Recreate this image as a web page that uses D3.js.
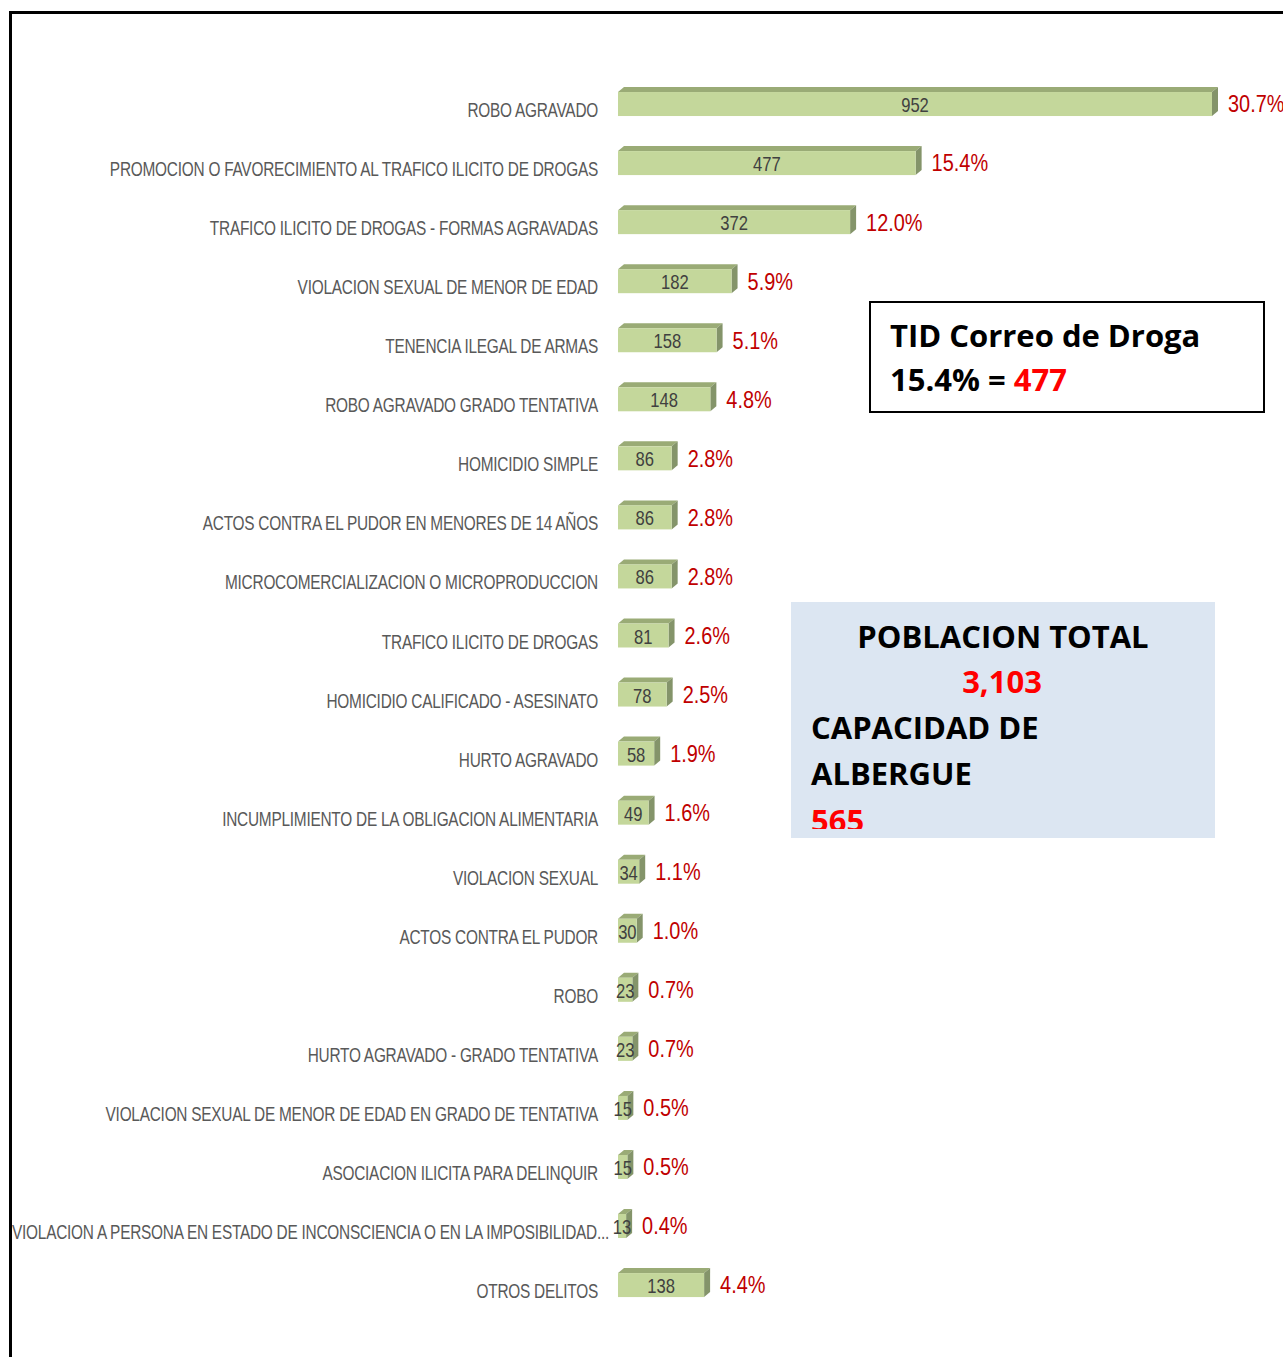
<!DOCTYPE html>
<html>
<head>
<meta charset="utf-8">
<script src="https://cdn.jsdelivr.net/npm/d3@7"></script>
<style>
  body { margin: 0; background: #fff; }
  svg { display: block; }
</style>
</head>
<body>
<div id="chart"></div>
<script>
// Data
const categories = [
  "ROBO AGRAVADO",
  "PROMOCION O FAVORECIMIENTO AL TRAFICO ILICITO DE DROGAS",
  "TRAFICO ILICITO DE DROGAS - FORMAS AGRAVADAS",
  "VIOLACION SEXUAL DE MENOR DE EDAD",
  "TENENCIA ILEGAL DE ARMAS",
  "ROBO AGRAVADO GRADO TENTATIVA",
  "HOMICIDIO SIMPLE",
  "ACTOS CONTRA EL PUDOR EN MENORES DE 14 AÑOS",
  "MICROCOMERCIALIZACION O MICROPRODUCCION",
  "TRAFICO ILICITO DE DROGAS",
  "HOMICIDIO CALIFICADO - ASESINATO",
  "HURTO AGRAVADO",
  "INCUMPLIMIENTO DE LA OBLIGACION ALIMENTARIA",
  "VIOLACION SEXUAL",
  "ACTOS CONTRA EL PUDOR",
  "ROBO",
  "HURTO AGRAVADO - GRADO TENTATIVA",
  "VIOLACION SEXUAL DE MENOR DE EDAD EN GRADO DE TENTATIVA",
  "ASOCIACION ILICITA PARA DELINQUIR",
  "VIOLACION A PERSONA EN ESTADO DE INCONSCIENCIA O EN LA IMPOSIBILIDAD...",
  "OTROS DELITOS"
];
const values = [952, 477, 372, 182, 158, 148, 86, 86, 86, 81, 78, 58, 49, 34, 30, 23, 23, 15, 15, 13, 138];
const percents = ["30.7%", "15.4%", "12.0%", "5.9%", "5.1%", "4.8%", "2.8%", "2.8%", "2.8%", "2.6%",
  "2.5%", "1.9%", "1.6%", "1.1%", "1.0%", "0.7%", "0.7%", "0.5%", "0.5%", "0.4%", "4.4%"];

const W = 1283, H = 1357;
const svg = d3.select("#chart").append("svg").attr("width", W).attr("height", H);

// outer frame (top and left edges visible)
svg.append("path")
  .attr("d", `M10.5,${H} L10.5,12.5 L${W},12.5`)
  .attr("fill", "none")
  .attr("stroke", "#000")
  .attr("stroke-width", 3);

// scales
const x = d3.scaleLinear().domain([0, 952]).range([618, 1212]);
const y = d3.scaleBand().domain(categories).range([74.5, 1314.6]).paddingInner(0.59).paddingOuter(0.295);

const barH = 24;
const dx = 6, dy = 5;
const sx = 0.83;   // squeeze for numbers
const sxCat = 0.77; // squeeze for category labels
const narrow = "'Liberation Sans', 'DejaVu Sans', sans-serif";
const rows = categories.map((c, i) => ({ cat: c, value: values[i], pct: percents[i] }));

const grp = svg.append("g");
const row = grp.selectAll(".row").data(rows).enter().append("g").attr("class", "row");

const yc = d => y(d.cat) + y.bandwidth() / 2;

// top face
row.append("path")
  .attr("fill", "#9aab76")
  .attr("d", d => {
    const x0 = x(0), x1 = x(d.value), t = yc(d) - barH / 2;
    return `M${x0},${t} L${x0 + dx},${t - dy} L${x1 + dx},${t - dy} L${x1},${t} Z`;
  });
// side face
row.append("path")
  .attr("fill", "#84946a")
  .attr("d", d => {
    const x1 = x(d.value), t = yc(d) - barH / 2, b = t + barH;
    return `M${x1},${t} L${x1 + dx},${t - dy} L${x1 + dx},${b - dy} L${x1},${b} Z`;
  });
// front face
row.append("rect")
  .attr("x", x(0))
  .attr("y", d => yc(d) - barH / 2)
  .attr("width", d => x(d.value) - x(0))
  .attr("height", barH)
  .attr("fill", "#c4d79b");

// value labels
row.append("text")
  .attr("transform", d => `translate(${(x(0) + x(d.value)) / 2},${yc(d) + 1}) scale(${sx},1)`)
  .attr("dy", "0.35em")
  .attr("text-anchor", "middle")
  .style("font-family", narrow)
  .style("font-size", "20px")
  .attr("fill", "#404040")
  .text(d => d.value);

// percent labels
row.append("text")
  .attr("transform", d => `translate(${x(d.value) + dx + 10},${yc(d)}) scale(${sx},1)`)
  .attr("dy", "0.35em")
  .style("font-family", narrow)
  .style("font-size", "24px")
  .attr("fill", "#c00000")
  .text(d => d.pct);

// category labels
row.append("text")
  .attr("class", "cat")
  .attr("transform", d => `translate(598,${yc(d) + 6}) scale(${sxCat},1)`)
  .attr("dy", "0.35em")
  .attr("text-anchor", "end")
  .style("font-family", narrow)
  .style("font-size", "20px")
  .style("letter-spacing", "-0.3px")
  .attr("fill", "#595959")
  .text(d => d.cat)
  .each(function (d) {
    const w = this.getComputedTextLength() * sxCat;
    if (598 - w < 12) {
      d3.select(this).attr("text-anchor", "start")
        .attr("transform", `translate(12,${yc(d) + 6}) scale(${sxCat},1)`);
    }
  });

// TID box
const boxFont = "'Open Sans', 'Liberation Sans', sans-serif";
const tid = svg.append("g");
tid.append("rect")
  .attr("x", 870).attr("y", 302).attr("width", 394).attr("height", 110)
  .attr("fill", "#fff").attr("stroke", "#000").attr("stroke-width", 2);
tid.append("text")
  .attr("x", 890).attr("y", 347)
  .style("font-family", boxFont).style("font-size", "31px").style("font-weight", "bold")
  .attr("fill", "#000")
  .text("TID Correo de Droga");
const t2 = tid.append("text")
  .attr("x", 890).attr("y", 391)
  .style("font-family", boxFont).style("font-size", "31px").style("font-weight", "bold")
  .attr("fill", "#000");
t2.append("tspan").text("15.4% = ");
t2.append("tspan").attr("fill", "#ff0000").text("477");

// Poblacion box
svg.append("clipPath").attr("id", "popClip")
  .append("rect").attr("x", 791).attr("y", 602).attr("width", 424).attr("height", 227);
svg.append("rect")
  .attr("x", 791).attr("y", 602).attr("width", 424).attr("height", 236)
  .attr("fill", "#dce6f2");
const pop = svg.append("g").attr("clip-path", "url(#popClip)");
const popLines = [
  { t: "POBLACION TOTAL", x: 1003, y: 648, anchor: "middle", c: "#000" },
  { t: "3,103", x: 1002, y: 693, anchor: "middle", c: "#ff0000" },
  { t: "CAPACIDAD DE", x: 811, y: 739, anchor: "start", c: "#000" },
  { t: "ALBERGUE", x: 811, y: 785, anchor: "start", c: "#000" },
  { t: "565", x: 811, y: 832, anchor: "start", c: "#ff0000" }
];
pop.selectAll(".pl").data(popLines).enter().append("text")
  .attr("x", d => d.x).attr("y", d => d.y)
  .attr("text-anchor", d => d.anchor)
  .style("font-family", boxFont).style("font-size", "31px").style("font-weight", "bold")
  .attr("fill", d => d.c)
  .text(d => d.t);
</script>
</body>
</html>
